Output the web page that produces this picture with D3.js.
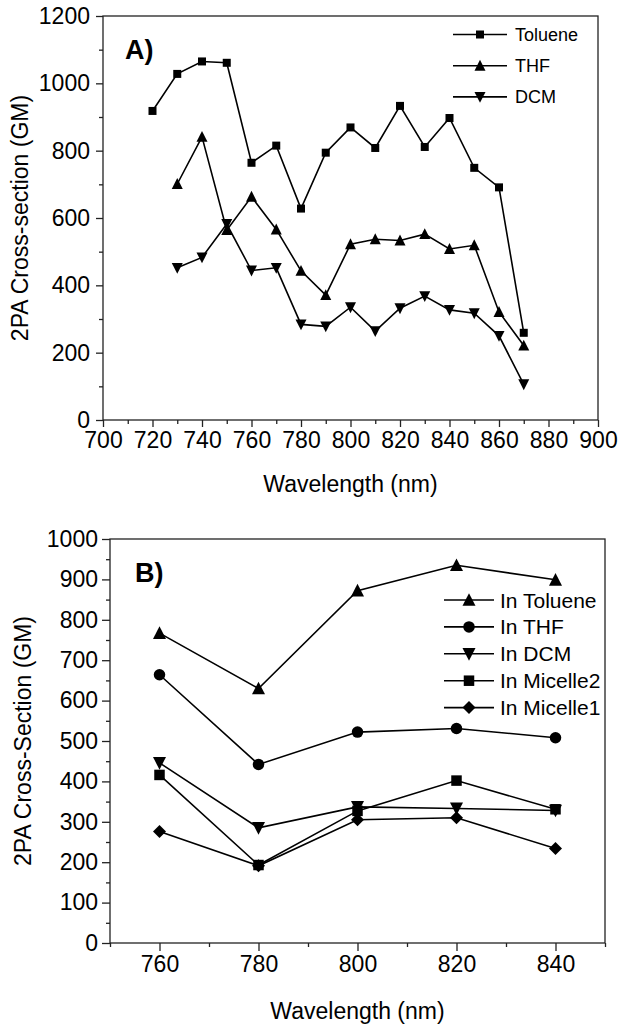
<!DOCTYPE html>
<html>
<head>
<meta charset="utf-8">
<script src="https://cdn.jsdelivr.net/npm/d3@7"></script>
<style>
  html, body { margin: 0; padding: 0; background: #fff; }
  svg { display: block; }
  text { font-family: "Liberation Sans", Arial, sans-serif; fill: #000; }
</style>
</head>
<body>
<div id="chart"></div>
<script>
// ---------- Data: panel A ----------
const wavelengthsA = [720, 730, 740, 750, 760, 770, 780, 790, 800, 810, 820, 830, 840, 850, 860, 870];
const tolueneA = [918, 1028, 1065, 1061, 764, 815, 628, 794, 869, 808, 933, 811, 897, 749, 691, 259];
const thfWavelengthsA = [730, 740, 750, 760, 770, 780, 790, 800, 810, 820, 830, 840, 850, 860, 870];
const thfA = [701, 841, 564, 663, 566, 443, 371, 522, 537, 533, 552, 508, 519, 321, 221];
const dcmWavelengthsA = [730, 740, 750, 760, 770, 780, 790, 800, 810, 820, 830, 840, 850, 860, 870];
const dcmA = [452, 483, 582, 444, 452, 284, 278, 335, 264, 332, 368, 327, 317, 250, 106];
const seriesNamesA = ["Toluene", "THF", "DCM"];
const xTicksA = [700, 720, 740, 760, 780, 800, 820, 840, 860, 880, 900];
const yTicksA = [0, 200, 400, 600, 800, 1000, 1200];

// ---------- Data: panel B ----------
const wavelengthsB = [760, 780, 800, 820, 840];
const inToluene = [767, 630, 872, 935, 899];
const inTHF = [664, 442, 522, 531, 508];
const inDCM = [446, 285, 337, 333, 328];
const inMicelle2 = [416, 193, 327, 402, 331];
const inMicelle1 = [276, 191, 305, 310, 234];
const seriesNamesB = ["In Toluene", "In THF", "In DCM", "In Micelle2", "In Micelle1"];
const xTicksB = [760, 780, 800, 820, 840];
const yTicksB = [0, 100, 200, 300, 400, 500, 600, 700, 800, 900, 1000];

const W = 624, H = 1025;
const svg = d3.select("#chart").append("svg").attr("width", W).attr("height", H);
const axisColor = "#222";

// ---------- marker drawing ----------
function marker(g, type, x, y, s) {
  let p;
  if (type === "square") {
    p = g.append("rect").attr("x", x - s/2).attr("y", y - s/2).attr("width", s).attr("height", s);
  } else if (type === "up") {
    const h = s * 0.9;
    p = g.append("path").attr("d", `M${x},${y - h/2 - 1}L${x + s/2},${y + h/2}L${x - s/2},${y + h/2}Z`);
  } else if (type === "down") {
    const h = s * 0.9;
    p = g.append("path").attr("d", `M${x},${y + h/2 + 1}L${x + s/2},${y - h/2}L${x - s/2},${y - h/2}Z`);
  } else if (type === "circle") {
    p = g.append("circle").attr("cx", x).attr("cy", y).attr("r", s/2);
  } else if (type === "diamond") {
    p = g.append("path").attr("d", `M${x},${y - s/2}L${x + s/2},${y}L${x},${y + s/2}L${x - s/2},${y}Z`);
  }
  p.attr("fill", "#000");
}

function drawPanel(cfg) {
  const g = svg.append("g");
  const x = d3.scaleLinear().domain(cfg.xDomain).range([cfg.left, cfg.right]);
  const y = d3.scaleLinear().domain(cfg.yDomain).range([cfg.bottom, cfg.top]);

  // frame
  g.append("rect").attr("x", cfg.left).attr("y", cfg.top)
    .attr("width", cfg.right - cfg.left).attr("height", cfg.bottom - cfg.top)
    .attr("fill", "none").attr("stroke", axisColor).attr("stroke-width", 1.3);

  // x axis major + minor
  g.append("g").attr("transform", `translate(0,${cfg.bottom})`)
    .call(d3.axisBottom(x).tickValues(cfg.xTicks).tickSize(cfg.majorLen).tickPadding(cfg.xPad).tickFormat(d3.format("d")));
  g.append("g").attr("transform", `translate(0,${cfg.bottom})`)
    .call(d3.axisBottom(x).tickValues(cfg.xMinor).tickSize(cfg.minorLen).tickFormat(""));
  g.append("g").attr("transform", `translate(${cfg.left},0)`)
    .call(d3.axisLeft(y).tickValues(cfg.yTicks).tickSize(cfg.majorLen).tickPadding(cfg.yPad).tickFormat(d3.format("d")));
  g.append("g").attr("transform", `translate(${cfg.left},0)`)
    .call(d3.axisLeft(y).tickValues(cfg.yMinor).tickSize(cfg.minorLen).tickFormat(""));
  g.selectAll(".domain").remove();
  g.selectAll(".tick line").attr("stroke", axisColor).attr("stroke-width", 1.3);
  g.selectAll(".tick text").attr("font-size", cfg.tickFont).attr("font-family", "Liberation Sans, Arial, sans-serif").attr("fill", "#000");

  // axis titles
  g.append("text").attr("x", (cfg.left + cfg.right) / 2).attr("y", cfg.xTitleY)
    .attr("text-anchor", "middle").attr("font-size", 23).text("Wavelength (nm)");
  g.append("text").attr("transform", `translate(${cfg.yTitleX},${(cfg.top + cfg.bottom) / 2}) rotate(-90)`)
    .attr("text-anchor", "middle").attr("font-size", 23).text(cfg.yTitle);

  // panel label
  g.append("text").attr("x", cfg.labelX).attr("y", cfg.labelY)
    .attr("font-family", "Liberation Serif, Times New Roman, serif").attr("font-weight", "bold")
    .attr("font-size", 27).text(cfg.label);

  // series
  const line = d3.line().x(d => x(d[0])).y(d => y(d[1]));
  cfg.series.forEach(s => {
    const pts = s.xs.map((w, i) => [w, s.ys[i]]);
    g.append("path").attr("d", line(pts)).attr("fill", "none").attr("stroke", "#000").attr("stroke-width", 1.6);
  });
  cfg.series.forEach(s => {
    s.xs.forEach((w, i) => marker(g, s.type, x(w), y(s.ys[i]), s.size));
  });

  // legend
  cfg.series.forEach((s, i) => {
    const ly = cfg.legY + i * cfg.legStep;
    g.append("line").attr("x1", cfg.legX1).attr("x2", cfg.legX2).attr("y1", ly).attr("y2", ly)
      .attr("stroke", "#000").attr("stroke-width", 1.6);
    marker(g, s.type, (cfg.legX1 + cfg.legX2) / 2, ly, s.size);
    g.append("text").attr("x", cfg.legTextX).attr("y", ly + cfg.legBase)
      .attr("font-size", cfg.legFont).text(s.name);
  });
}

function range(a, b, step) { const r = []; for (let v = a; v <= b + 1e-9; v += step) r.push(v); return r; }

drawPanel({
  left: 103, right: 598, top: 16, bottom: 420,
  xDomain: [700, 900], yDomain: [0, 1200],
  xTicks: xTicksA, xMinor: range(710, 890, 20),
  yTicks: yTicksA, yMinor: range(100, 1100, 200),
  majorLen: 7, minorLen: 4, xPad: 5, yPad: 6, tickFont: 23,
  xTitleY: 492, yTitleX: 28, yTitle: "2PA Cross-section (GM)",
  label: "A)", labelX: 125, labelY: 59,
  legX1: 453, legX2: 507, legTextX: 515, legY: 34.5, legStep: 31.2, legBase: 6.5, legFont: 18,
  series: [
    { name: seriesNamesA[0], xs: wavelengthsA, ys: tolueneA, type: "square", size: 8 },
    { name: seriesNamesA[1], xs: thfWavelengthsA, ys: thfA, type: "up", size: 11 },
    { name: seriesNamesA[2], xs: dcmWavelengthsA, ys: dcmA, type: "down", size: 11 }
  ]
});

drawPanel({
  left: 110, right: 605, top: 539, bottom: 943,
  xDomain: [750, 850], yDomain: [0, 1000],
  xTicks: xTicksB, xMinor: range(750, 850, 20),
  yTicks: yTicksB, yMinor: range(50, 950, 100),
  majorLen: 8, minorLen: 4, xPad: 5, yPad: 4, tickFont: 23,
  xTitleY: 1019, yTitleX: 31, yTitle: "2PA Cross-Section (GM)",
  label: "B)", labelX: 135, labelY: 582,
  legX1: 444, legX2: 494, legTextX: 500, legY: 600, legStep: 26.9, legBase: 7.5, legFont: 21,
  series: [
    { name: seriesNamesB[0], xs: wavelengthsB, ys: inToluene, type: "up", size: 13 },
    { name: seriesNamesB[1], xs: wavelengthsB, ys: inTHF, type: "circle", size: 11.5 },
    { name: seriesNamesB[2], xs: wavelengthsB, ys: inDCM, type: "down", size: 13 },
    { name: seriesNamesB[3], xs: wavelengthsB, ys: inMicelle2, type: "square", size: 10.5 },
    { name: seriesNamesB[4], xs: wavelengthsB, ys: inMicelle1, type: "diamond", size: 13 }
  ]
});
</script>
</body>
</html>
